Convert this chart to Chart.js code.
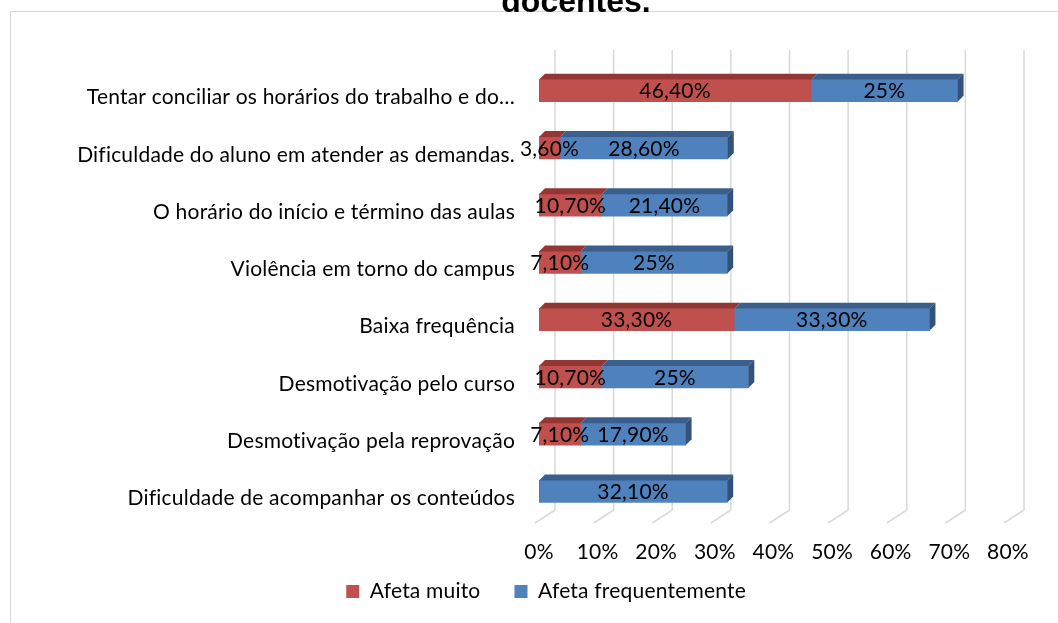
<!DOCTYPE html>
<html>
<head>
<meta charset="utf-8">
<script src="https://cdn.jsdelivr.net/npm/chart.js@4.4.1/dist/chart.umd.min.js"></script>
<style>
  html, body { margin: 0; padding: 0; background: #fff; overflow: hidden; width: 1058px; height: 623px; }
  #frame { position: absolute; left: 10px; top: 11px; width: 1100px; height: 700px; border: 1px solid #d9d9d9; }
  #chart { position: absolute; left: 0; top: 0; }
</style>
</head>
<body>
<div id="frame"></div>
<canvas id="chart" width="1058" height="612"></canvas>
<script>
const categories = [
  'Tentar conciliar os horários do trabalho e do…',
  'Dificuldade do aluno em atender as demandas.',
  'O horário do início e término das aulas',
  'Violência em torno do campus',
  'Baixa frequência',
  'Desmotivação pelo curso',
  'Desmotivação pela reprovação',
  'Dificuldade de acompanhar os conteúdos'
];
const afetaMuito = [46.4, 3.6, 10.7, 7.1, 33.3, 10.7, 7.1, 0];
const afetaFrequentemente = [25, 28.6, 21.4, 25, 33.3, 25, 17.9, 32.1];
const xTicks = [0, 10, 20, 30, 40, 50, 60, 70, 80];
const titleText = 'docentes.';

const FONT = 'Lato, "Open Sans", sans-serif';
const FS = 21;
const DX = 6, DY = 6;

function fmt(v) {
  return Number.isInteger(v) ? v + '%' : v.toFixed(2).replace('.', ',') + '%';
}

// 3D look: back grid, top/side faces, value labels, title
const depth = {
  id: 'depth',
  beforeDraw(chart) {
    chart.ctx.letterSpacing = '0.2px'; // also stops Lato's fi / ti ligatures
  },
  beforeDatasetsDraw(chart) {
    const { ctx, chartArea, scales } = chart;
    ctx.save();
    ctx.strokeStyle = '#d9d9d9';
    ctx.lineWidth = 1.5;
    xTicks.forEach(t => {
      const x = scales.x.getPixelForValue(t);
      ctx.beginPath();
      ctx.moveTo(x + 16, chartArea.top - 12);
      ctx.lineTo(x + 16, chartArea.bottom - 10);
      ctx.lineTo(x - 4, chartArea.bottom + 3);
      ctx.stroke();
    });
    ctx.restore();
  },
  afterDatasetsDraw(chart) {
    const { ctx } = chart;
    const tops = ['#943634', '#3a5f8c'];
    const sides = ['#7f2d2b', '#32527a'];
    ctx.save();
    chart.data.datasets.forEach((ds, di) => {
      chart.getDatasetMeta(di).data.forEach((el, i) => {
        if (!ds.data[i]) return;
        const l = Math.min(el.base, el.x), r = Math.max(el.base, el.x);
        const t = el.y - el.height / 2, b = el.y + el.height / 2;
        ctx.fillStyle = tops[di];
        ctx.beginPath();
        ctx.moveTo(l, t); ctx.lineTo(l + DX, t - DY); ctx.lineTo(r + DX, t - DY); ctx.lineTo(r, t);
        ctx.closePath(); ctx.fill();
        const last = di === 1 || !chart.data.datasets[1].data[i];
        if (last) {
          ctx.fillStyle = sides[di];
          ctx.beginPath();
          ctx.moveTo(r, t); ctx.lineTo(r + DX, t - DY); ctx.lineTo(r + DX, b - DY); ctx.lineTo(r, b);
          ctx.closePath(); ctx.fill();
        }
      });
    });
    // value labels
    ctx.fillStyle = '#000';
    ctx.font = FS + 'px ' + FONT;
    ctx.textAlign = 'center';
    ctx.textBaseline = 'middle';
    chart.data.datasets.forEach((ds, di) => {
      chart.getDatasetMeta(di).data.forEach((el, i) => {
        if (!ds.data[i]) return;
        ctx.fillText(fmt(ds.data[i]), (el.base + el.x) / 2, el.y + 1);
      });
    });
    // title (only its last line is inside the picture)
    ctx.letterSpacing = '0px';
    ctx.font = 'bold 32px "Liberation Sans", Arial, sans-serif';
    ctx.textBaseline = 'alphabetic';
    ctx.fillText(titleText, 576, 12);
    ctx.restore();
  }
};

new Chart(document.getElementById('chart'), {
  type: 'bar',
  data: {
    labels: categories,
    datasets: [
      { label: 'Afeta muito', data: afetaMuito, backgroundColor: '#c0504d', barThickness: 22 },
      { label: 'Afeta frequentemente', data: afetaFrequentemente, backgroundColor: '#4f81bd', barThickness: 22 }
    ]
  },
  options: {
    indexAxis: 'y',
    responsive: false,
    animation: false,
    layout: { padding: { top: 62, left: 78, right: 50, bottom: 0 } },
    scales: {
      x: {
        stacked: true,
        min: 0,
        max: 80,
        afterBuildTicks: s => { s.ticks = xTicks.map(v => ({ value: v })); },
        afterFit: s => {
          s.height = 27;
          s._computeLabelArea = () => undefined; // let tick labels run past the short axis box
        },
        grid: { display: false, drawTicks: false },
        border: { display: false },
        ticks: { color: '#000', font: { family: FONT, size: FS }, padding: 20, callback: v => v + '%' }
      },
      y: {
        stacked: true,
        afterFit: s => {
          s.width = 461;
          s._computeLabelArea = () => undefined;
        },
        grid: { display: false, drawTicks: false },
        border: { display: false },
        ticks: { color: '#000', font: { family: FONT, size: FS }, padding: 24, labelOffset: 7 }
      }
    },
    plugins: {
      legend: {
        position: 'bottom',
        labels: { color: '#000', font: { family: FONT, size: FS }, boxWidth: 13, boxHeight: 13, padding: 34 }
      },
      tooltip: { enabled: false }
    }
  },
  plugins: [depth]
});
</script>
</body>
</html>
